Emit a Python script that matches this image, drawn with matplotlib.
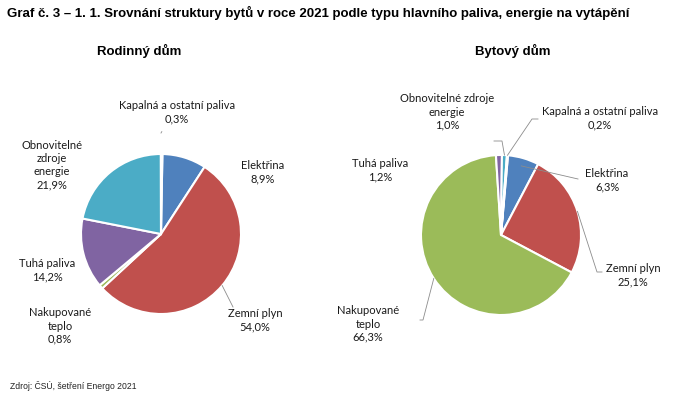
import matplotlib.pyplot as plt
import numpy as np

W, H = 682, 399

# data: order = Elektřina, Zemní plyn, Nakupované teplo, Tuhá paliva, Obnovitelné, Kapalná
categories = ["Elektřina", "Zemní plyn", "Nakupované\nteplo", "Tuhá paliva",
              "Obnovitelné\nzdroje\nenergie", "Kapalná a ostatní paliva"]
categories_byt = ["Elektřina", "Zemní plyn", "Nakupované\nteplo", "Tuhá paliva",
                  "Obnovitelné zdroje\nenergie", "Kapalná a ostatní paliva"]
rodinny = [8.9, 54.0, 0.8, 14.2, 21.9, 0.3]
bytovy = [6.3, 25.1, 66.3, 1.2, 1.0, 0.2]
colors = ['#4F81BD', '#C0504D', '#9BBB59', '#8064A2', '#4BACC6', '#F79646']


def Y(p):
    return H - p


fig = plt.figure(figsize=(W / 100, H / 100), dpi=100)
ax = fig.add_axes([0, 0, 1, 1])
ax.set_xlim(0, W)
ax.set_ylim(0, H)
ax.axis('off')

lab_font = dict(family=['Lato', 'DejaVu Sans'], fontsize=8, color='#1a1a1a',
                linespacing=1.25)


def fmt(v):
    return f"{v:.1f}".replace('.', ',') + '%'


def draw_pie(center, r, values, names, start, label_pos, leaders):
    cx, cy = center
    ax.pie(values, colors=colors, center=(cx, Y(cy)), radius=r,
           startangle=90 - start, counterclock=False,
           wedgeprops=dict(edgecolor='white', linewidth=1.5))
    tot = sum(values)
    cum = np.cumsum([0] + values) / tot * 360 + start
    for i, (name, v) in enumerate(zip(names, values)):
        lx, ly = label_pos[i]
        ax.text(lx, Y(ly), name + '\n' + fmt(v), ha='center', va='center', **lab_font)
        if i in leaders:
            mid = np.deg2rad((cum[i] + cum[i + 1]) / 2)
            fr, pts = leaders[i]
            px = cx + r * fr * np.sin(mid)
            py = cy - r * fr * np.cos(mid)
            xs = [px] + [p[0] for p in pts]
            ys = [Y(py)] + [Y(p[1]) for p in pts]
            ax.plot(xs, ys, color='#8c8c8c', lw=0.6)
    ax.set_xlim(0, W)
    ax.set_ylim(0, H)
    ax.set_aspect('auto')


draw_pie((161, 234), 80, rodinny, categories, 1,
         [(263, 172), (255, 320), (60, 326), (47, 270), (52, 165), (177, 112)],
         {1: (1.0, [(233, 307)]), 5: (1.28, [(161, 133)])})

draw_pie((501, 235), 80, bytovy, categories_byt, 5,
         [(607, 180), (633, 275), (368, 324), (380, 170), (447, 112), (600, 118)],
         {0: (0.9, [(578, 179)]),
          1: (1.0, [(597, 272), (602, 272)]),
          2: (1.0, [(423, 320), (420, 320)]),
          4: (1.0, [(502, 141), (494, 141)]),
          5: (1.0, [(532, 119), (538, 119)])})

ax.text(7, Y(13), "Graf č. 3 – 1. 1. Srovnání struktury bytů v roce 2021 podle typu hlavního paliva, energie na vytápění",
        family=['Liberation Sans', 'DejaVu Sans'], fontweight='bold', fontsize=9.5,
        ha='left', va='center', color='black')
ax.text(139, Y(51), "Rodinný dům", family=['Liberation Sans', 'DejaVu Sans'],
        fontweight='bold', fontsize=9.5, ha='center', va='center')
ax.text(513, Y(51), "Bytový dům", family=['Liberation Sans', 'DejaVu Sans'],
        fontweight='bold', fontsize=9.5, ha='center', va='center')
ax.text(10, Y(386), "Zdroj: ČSÚ, šetření Energo 2021", family=['Liberation Sans', 'DejaVu Sans'],
        fontsize=6.2, ha='left', va='center', color='#222222')

fig.savefig('out.png', dpi=100)
